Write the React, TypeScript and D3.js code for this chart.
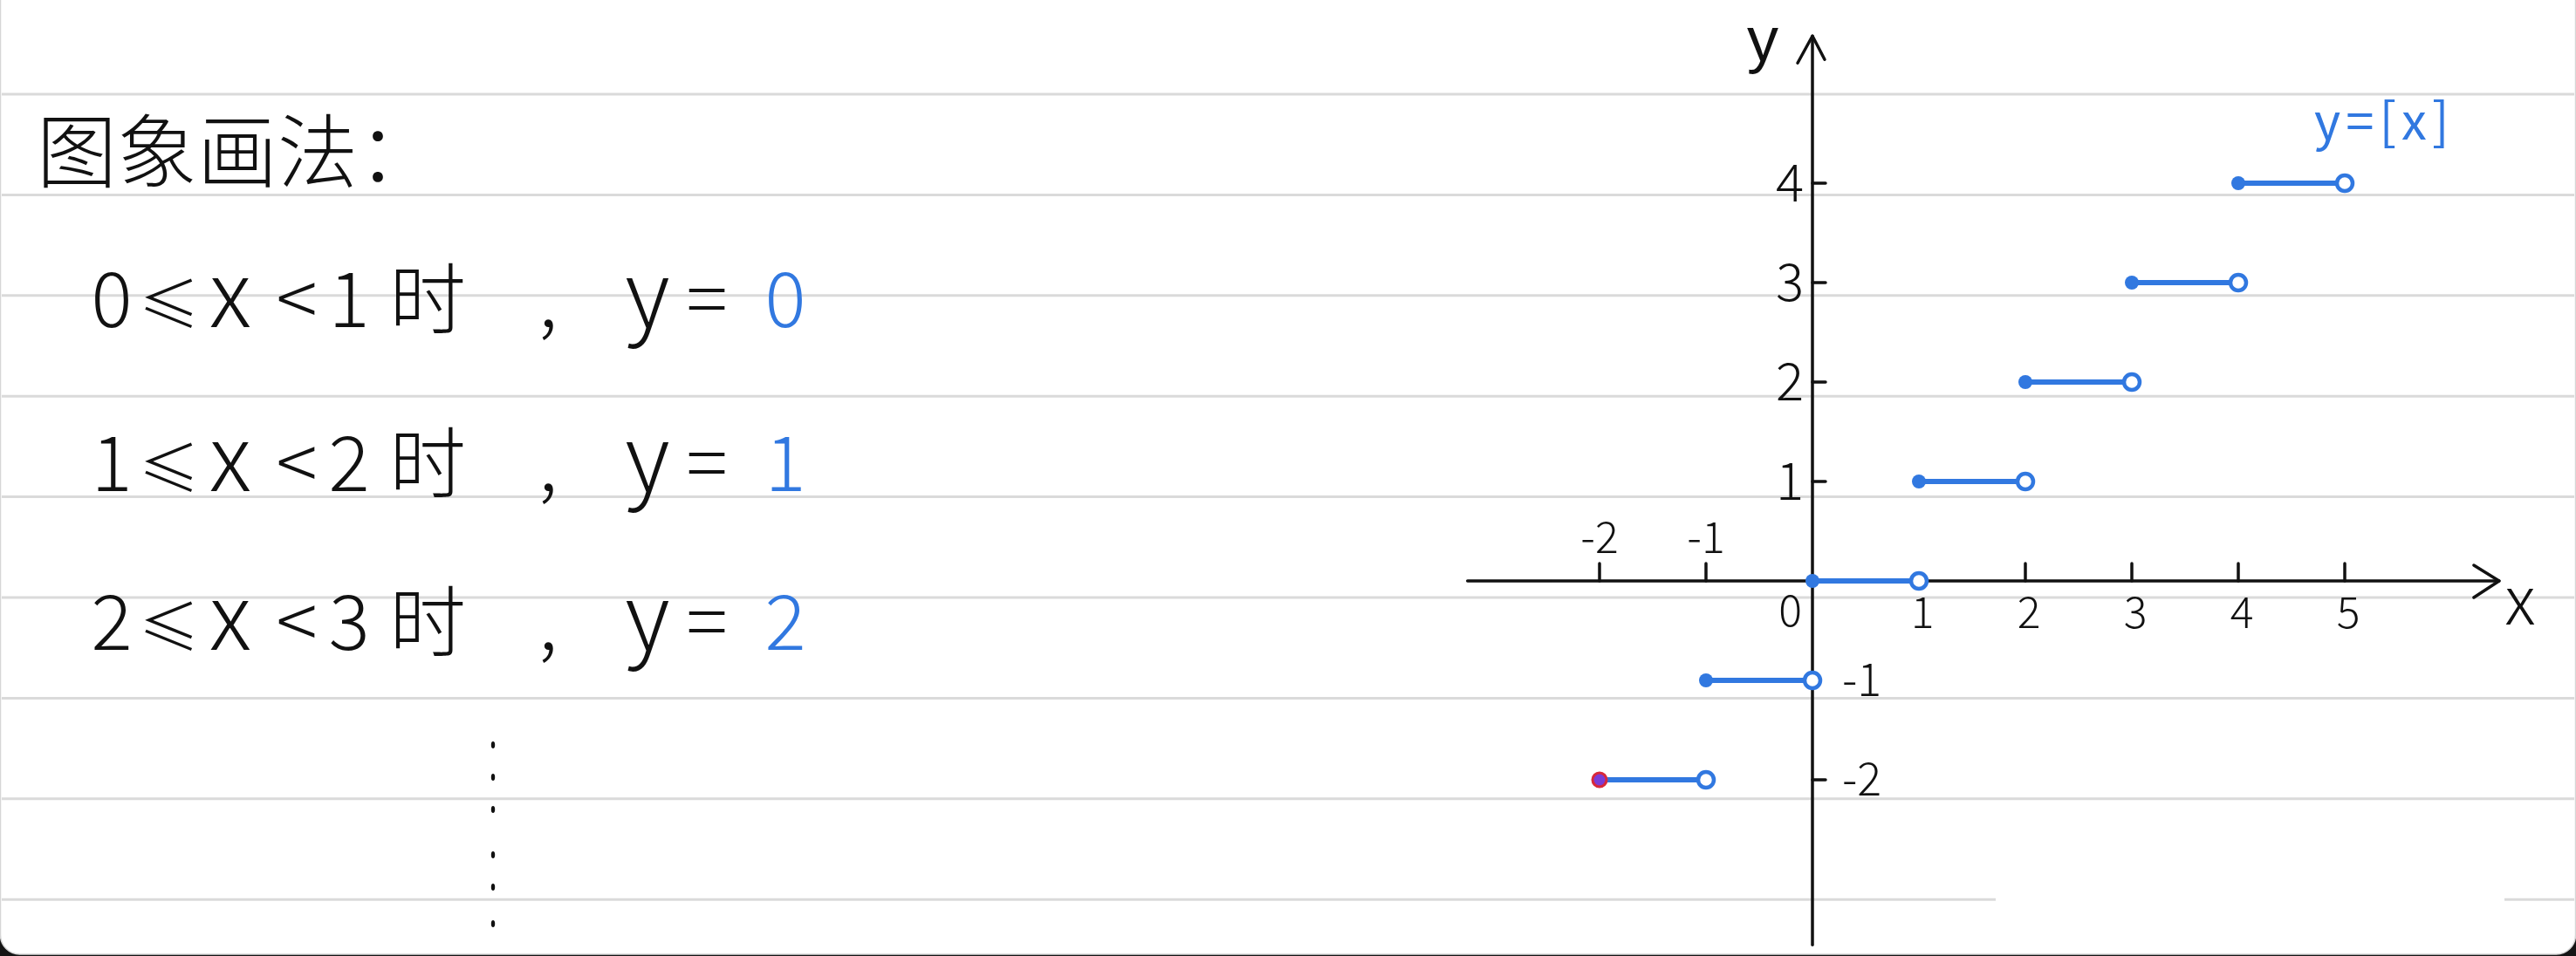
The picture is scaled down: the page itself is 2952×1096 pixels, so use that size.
import { useRef, useEffect } from 'react';
import * as d3 from 'd3';

// left-hand notes: "a ≤ x < b 时, y = v"
const rowLower = ['0', '1', '2'];
const rowUpper = ['1', '2', '3'];
const rowValue = ['0', '1', '2'];

// y = [x] steps
const stepLeft = [-2, -1, 0, 1, 2, 3, 4];
const stepRight = [-1, 0, 1, 2, 3, 4, 5];
const stepValue = [-2, -1, 0, 1, 2, 3, 4];

// axis ticks / labels
const xTickMarks = [-2, -1, 2, 3, 4, 5];
const xLabelsAbove = [-2, -1];
const xLabelsBelow = [1, 2, 3, 4, 5];
const yLabelsLeft = [1, 2, 3, 4];
const yLabelsRight = [-1, -2];
const yTickMarks = [1, 2, 3, 4, -2];

const W = 2952;
const H = 1096;
const FONT = "'Noto Sans CJK SC', 'Noto Sans', sans-serif";
const BLUE = '#3178e0';
const INK = '#111';

export default function App() {
    const svgRef = useRef<SVGSVGElement>(null);

    useEffect(() => {
        const el = svgRef.current;
        if (!el) return;
        const svg = d3.select(el);
        svg.selectAll('*').remove();

        // background: black frame with rounded bottom corners
        svg.append('rect').attr('width', W).attr('height', H).attr('fill', '#151515');
        svg.append('rect')
            .attr('x', 0.5).attr('y', -40)
            .attr('width', W - 1).attr('height', H + 40 - 2)
            .attr('rx', 22)
            .attr('fill', '#fff')
            .attr('stroke', '#d6d6d6')
            .attr('stroke-width', 1.5);

        // ruled paper lines
        const lineYs = d3.range(9).map(i => 108 + i * 115.4);
        lineYs.forEach((ly, i) => {
            const spans = i === 8 ? [[2, 2287], [2870, W - 2]] : [[2, W - 2]];
            spans.forEach(([a, b]) => {
                svg.append('line').attr('x1', a).attr('x2', b).attr('y1', ly).attr('y2', ly)
                    .attr('stroke', '#dadada').attr('stroke-width', 3);
            });
        });

        // ---------- left notes ----------
        const notes = svg.append('g').style('font-family', FONT).attr('fill', INK);
        notes.append('text')
            .attr('x', 42).attr('y', 208)
            .style('font-size', '92px')
            .style('font-weight', 300)
            .text('图象画法：');

        const rowBase = [375, 563, 745];
        const cols = { lo: 128, le: 194, x: 264, lt: 340, hi: 400, shi: 490, comma: 628, y: 742, eq: 810, val: 900 };
        rowLower.forEach((lo, i) => {
            const g = notes.append('g').attr('transform', `translate(0,${rowBase[i]})`)
                .style('font-size', '88px').style('font-weight', 300).attr('text-anchor', 'middle');
            g.append('text').attr('x', cols.lo).text(lo);
            g.append('text').attr('x', cols.le).style('font-size', '70px').text('≤');
            g.append('text').attr('x', cols.x).style('font-size', '104px').text('x');
            g.append('text').attr('x', cols.lt).text('<');
            g.append('text').attr('x', cols.hi).text(rowUpper[i]);
            g.append('text').attr('x', cols.shi).text('时');
            g.append('text').attr('x', cols.comma).text(',');
            g.append('text').attr('x', cols.y).style('font-size', '104px').text('y');
            g.append('text').attr('x', cols.eq).text('=');
            g.append('text').attr('x', cols.val).attr('fill', BLUE).text(rowValue[i]);
        });

        // vertical ellipsis dots
        [854, 891, 928, 980, 1017, 1059].forEach(dy => {
            notes.append('ellipse').attr('cx', 565).attr('cy', dy).attr('rx', 2.2).attr('ry', 4).attr('fill', INK);
        });

        // ---------- graph ----------
        const x = d3.scaleLinear().domain([-2, 5]).range([1833, 2687]);
        const y = d3.scaleLinear().domain([-2, 4]).range([894, 210]);
        const x0 = x(0);
        const y0 = y(0);

        const axes = svg.append('g').attr('stroke', INK).attr('stroke-width', 3.5)
            .attr('fill', 'none').attr('stroke-linecap', 'round').attr('stroke-linejoin', 'round');
        // x axis
        axes.append('line').attr('x1', x(-3.24)).attr('x2', x(6.45)).attr('y1', y0).attr('y2', y0);
        axes.append('path').attr('d', `M${x(6.45) - 29},${y0 - 18}L${x(6.45)},${y0}L${x(6.45) - 29},${y0 + 19}`);
        // y axis
        axes.append('line').attr('x1', x0).attr('x2', x0).attr('y1', y(5.48)).attr('y2', y(-3.66));
        axes.append('path').attr('d', `M${x0 - 17},${y(5.48) + 31}L${x0},${y(5.48)}L${x0 + 14},${y(5.48) + 27}`);

        // ticks
        axes.selectAll('line.xt').data(xTickMarks).enter().append('line').attr('class', 'xt')
            .attr('x1', d => x(d)).attr('x2', d => x(d)).attr('y1', y0 - 20).attr('y2', y0);
        axes.selectAll('line.yt').data(yTickMarks).enter().append('line').attr('class', 'yt')
            .attr('x1', x0).attr('x2', x0 + 15).attr('y1', d => y(d)).attr('y2', d => y(d));

        const labels = svg.append('g').style('font-family', FONT).style('font-weight', 300).attr('fill', INK);
        labels.selectAll('text.xa').data(xLabelsAbove).enter().append('text').attr('class', 'xa')
            .attr('x', d => x(d)).attr('y', y0 - 32).attr('text-anchor', 'middle')
            .style('font-size', '50px').text(d => `-${Math.abs(d)}`);
        labels.selectAll('text.xb').data(xLabelsBelow).enter().append('text').attr('class', 'xb')
            .attr('x', d => x(d) + 4).attr('y', y0 + 54).attr('text-anchor', 'middle')
            .style('font-size', '50px').text(d => d);
        labels.append('text').attr('x', x0 - 12).attr('y', y0 + 52).attr('text-anchor', 'end')
            .style('font-size', '50px').text('0');
        labels.selectAll('text.yl').data(yLabelsLeft).enter().append('text').attr('class', 'yl')
            .attr('x', x0 - 10).attr('y', d => y(d) + 21).attr('text-anchor', 'end')
            .style('font-size', '60px').text(d => d);
        labels.selectAll('text.yr').data(yLabelsRight).enter().append('text').attr('class', 'yr')
            .attr('x', x0 + 34).attr('y', d => y(d) + 18).attr('text-anchor', 'start')
            .style('font-size', '52px').text(d => `-${Math.abs(d)}`);

        // axis names
        labels.append('text').attr('x', 2020).attr('y', 70).attr('text-anchor', 'middle')
            .style('font-family', "'Liberation Sans', sans-serif").style('font-weight', 400)
            .style('font-size', '72px').text('y');
        labels.append('text').attr('x', 2888).attr('y', 716).attr('text-anchor', 'middle')
            .style('font-size', '76px').text('x');

        // function label
        svg.append('text').attr('x', 2652).attr('y', 160)
            .style('font-family', FONT).style('font-size', '58px').style('letter-spacing', '6px')
            .attr('fill', BLUE).text('y=[x]');

        // steps
        const steps = svg.append('g');
        const idx = d3.range(stepValue.length);
        steps.selectAll('line.seg').data(idx).enter().append('line').attr('class', 'seg')
            .attr('x1', i => x(stepLeft[i])).attr('x2', i => x(stepRight[i]))
            .attr('y1', i => y(stepValue[i])).attr('y2', i => y(stepValue[i]))
            .attr('stroke', BLUE).attr('stroke-width', 6);
        steps.selectAll('circle.closed').data(idx).enter().append('circle').attr('class', 'closed')
            .attr('cx', i => x(stepLeft[i])).attr('cy', i => y(stepValue[i])).attr('r', 8)
            .attr('fill', i => (stepLeft[i] === -2 ? '#7a3cd6' : BLUE))
            .attr('stroke', i => (stepLeft[i] === -2 ? '#d8283a' : 'none'))
            .attr('stroke-width', 3);
        steps.selectAll('circle.open').data(idx).enter().append('circle').attr('class', 'open')
            .attr('cx', i => x(stepRight[i])).attr('cy', i => y(stepValue[i])).attr('r', 9)
            .attr('fill', '#fff').attr('stroke', BLUE).attr('stroke-width', 4.5);
    }, []);

    return (
        <svg
            ref={svgRef}
            width={W}
            height={H}
            style={{ position: 'absolute', left: 0, top: 0, display: 'block' }}
        />
    );
}
